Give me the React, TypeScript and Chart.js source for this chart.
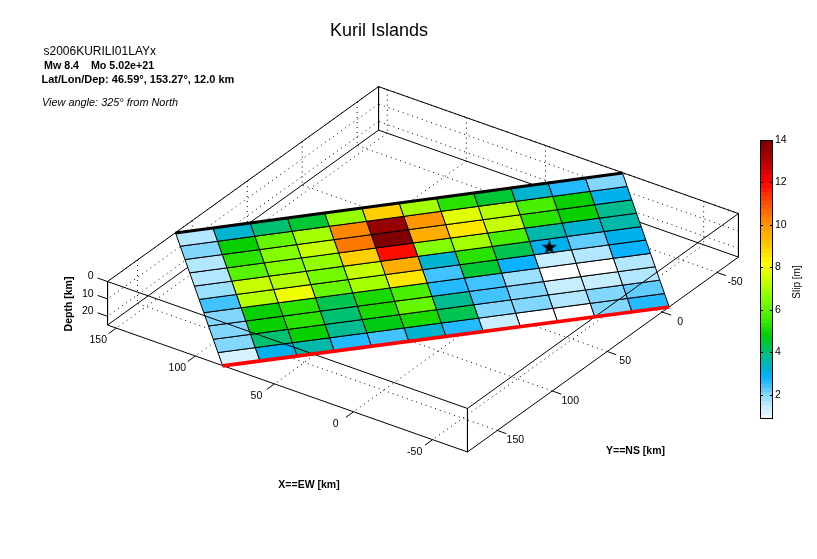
import React, { useEffect, useRef } from "react";
import { Chart, registerables } from "chart.js";
Chart.register(...registerables);

// ---- data (km / m) ----
const xTicks = [-50, 0, 50, 100, 150];
const yTicks = [-50, 0, 50, 100, 150];
const depthTicks = [0, 10, 20];
const slipTicks = [2, 4, 6, 8, 10, 12, 14];
const xLim = [-72, 155.5];
const yLim = [-69.5, 177.2];
const depthLim = [0, 25];
const slipLim = [0.87, 14];
const faultTopLeft = [155.3, 115.6, 0];
const faultTopRight = [1.1, -69.2, 0];
const faultBottomLeft = [82.6, 177.4, 25];
const faultBottomRight = [-72, -6.4, 25];
const hypocentre = [0.8, -2.2, 12];
const slip = [
  [1.6, 3.3, 4.1, 4.4, 6.8, 9.0, 6.9, 5.3, 4.4, 3.3, 2.6, 1.9],
  [2.0, 4.8, 6.0, 7.0, 10.3, 13.5, 10.1, 7.8, 7.2, 5.6, 4.8, 3.1],
  [1.6, 5.3, 6.5, 7.4, 10.5, 13.8, 9.5, 8.5, 7.4, 5.3, 4.8, 3.85],
  [1.6, 5.8, 6.6, 6.8, 9.0, 11.9, 6.5, 7.0, 5.6, 3.6, 3.3, 3.6],
  [1.8, 7.3, 7.2, 6.4, 7.3, 9.5, 3.3, 5.3, 4.3, 3.1, 2.3, 3.1],
  [2.4, 7.2, 8.0, 6.2, 7.0, 8.6, 2.4, 4.4, 2.9, 1.3, 1.6, 2.9],
  [2.0, 4.9, 5.3, 4.2, 5.1, 5.6, 2.6, 2.5, 1.8, 0.8, 0.8, 1.6],
  [2.0, 4.9, 5.3, 4.0, 5.0, 6.0, 3.85, 2.4, 2.0, 1.3, 1.3, 1.6],
  [2.1, 4.0, 4.9, 3.85, 4.6, 5.1, 4.2, 2.1, 2.1, 1.6, 2.1, 2.2],
  [1.1, 3.1, 3.6, 2.6, 2.4, 3.3, 2.6, 1.3, 0.8, 0.8, 1.9, 2.6],
];
const titleText = "Kuril Islands";
const headerId = "s2006KURILI01LAYx";
const headerMw = "Mw 8.4    Mo 5.02e+21";
const headerLoc = "Lat/Lon/Dep: 46.59\u00b0, 153.27\u00b0, 12.0 km";
const headerView = "View angle: 325\u00b0 from North";
const xTitle = "X==EW [km]";
const yTitle = "Y==NS [km]";
const depthTitle = "Depth [km]";
const slipTitle = "Slip [m]";

// colour map: slip value -> rgb
const mapStops: number[][] = [
  [0.87, 238, 250, 255], [1.5, 190, 235, 255], [2, 130, 215, 255], [2.5, 50, 190, 255],
  [2.9, 0, 175, 255], [3.2, 0, 180, 210], [3.7, 0, 185, 165], [4.2, 0, 195, 90],
  [4.8, 0, 205, 0], [5.5, 60, 235, 0], [6.5, 130, 255, 0], [7.5, 210, 255, 0],
  [8.2, 255, 255, 0], [9, 255, 205, 0], [10, 255, 150, 0], [11, 255, 80, 0],
  [12, 255, 0, 0], [13, 180, 0, 0], [14, 120, 0, 0],
];
const LEVELS = 64;
function slipColour(v: number) {
  if (v < slipLim[0]) return "rgb(255,255,255)";
  const step = (slipLim[1] - slipLim[0]) / LEVELS;
  const q = Math.min(slipLim[1] - step / 2, slipLim[0] + (Math.floor((v - slipLim[0]) / step) + 0.5) * step);
  let i = 0;
  while (i < mapStops.length - 2 && q > mapStops[i + 1][0]) i++;
  const a = mapStops[i], b = mapStops[i + 1];
  const t = (q - a[0]) / (b[0] - a[0]);
  const c = [1, 2, 3].map((k) => Math.round(a[k] + (b[k] - a[k]) * t));
  return `rgb(${c[0]},${c[1]},${c[2]})`;
}

// view projection (orthographic) from km to the chart's coordinates
const VIEW = { ox: 547.76, oy: 271.8, xx: -1.582, xy: -0.558, yx: -1.0985, yy: 0.79, z: 1.74 };
function project(X: number, Y: number, d: number) {
  return {
    x: VIEW.ox + X * VIEW.xx + Y * VIEW.yx,
    y: VIEW.oy + X * VIEW.xy + Y * VIEW.yy + (d - depthLim[1]) * VIEW.z,
  };
}

const FONT = '"Liberation Sans", Arial, sans-serif';
const TITLE_SIZE = 18;
const TITLE_TOP = 20.2;
const AREA_TOP = TITLE_TOP + TITLE_SIZE * 1.2;

function path3(pts: number[][], order: number, extra: any = {}) {
  return {
    data: pts.map((p) => project(p[0], p[1], p[2])),
    showLine: true,
    pointRadius: 0,
    borderColor: "#000",
    borderWidth: 1,
    tension: 0,
    order,
    clip: false,
    ...extra,
  };
}

function buildDatasets(starImage: HTMLCanvasElement) {
  const ds: any[] = [];
  const [x0, x1] = xLim, [y0, y1] = yLim, [d0, d1] = depthLim;
  const dotted = { borderDash: [1, 4], borderColor: "#000", borderWidth: 1 };

  // grid on the floor and the two back walls
  xTicks.forEach((X) => {
    ds.push(path3([[X, y0, d1], [X, y1, d1]], 50, dotted));
    ds.push(path3([[X, y0, d0], [X, y0, d1]], 50, dotted));
  });
  yTicks.forEach((Y) => {
    ds.push(path3([[x0, Y, d1], [x1, Y, d1]], 50, dotted));
    ds.push(path3([[x1, Y, d0], [x1, Y, d1]], 50, dotted));
  });
  depthTicks.forEach((d) => {
    ds.push(path3([[x1, y0, d], [x1, y1, d]], 50, dotted));
    ds.push(path3([[x0, y0, d], [x1, y0, d]], 50, dotted));
  });

  // back box edges
  [
    [[x1, y0, d0], [x1, y0, d1]],
    [[x1, y0, d0], [x1, y1, d0]],
    [[x1, y0, d0], [x0, y0, d0]],
    [[x1, y0, d1], [x1, y1, d1]],
    [[x1, y0, d1], [x0, y0, d1]],
  ].forEach((seg) => ds.push(path3(seg, 40)));

  // fault cells
  const rows = slip.length, cols = slip[0].length;
  const corner = (i: number, j: number) => {
    const u = i / cols, v = j / rows;
    return [0, 1, 2].map((k) =>
      (1 - v) * ((1 - u) * faultTopLeft[k] + u * faultTopRight[k]) +
      v * ((1 - u) * faultBottomLeft[k] + u * faultBottomRight[k]));
  };
  slip.forEach((row, j) =>
    row.forEach((val, i) => {
      ds.push(
        path3([corner(i, j), corner(i + 1, j), corner(i + 1, j + 1), corner(i, j + 1), corner(i, j)], 30, {
          fill: "shape",
          backgroundColor: slipColour(val),
        })
      );
    })
  );

  // front box edges
  [
    [[x0, y1, d0], [x0, y1, d1]],
    [[x1, y1, d0], [x1, y1, d1]],
    [[x0, y0, d0], [x0, y0, d1]],
    [[x1, y1, d0], [x0, y1, d0]],
    [[x0, y1, d0], [x0, y0, d0]],
    [[x1, y1, d1], [x0, y1, d1]],
    [[x0, y1, d1], [x0, y0, d1]],
  ].forEach((seg) => ds.push(path3(seg, 20)));

  // tick marks
  xTicks.forEach((X) => ds.push(path3([[X, y1, d1], [X, y1 + 7, d1]], 20)));
  yTicks.forEach((Y) => ds.push(path3([[x0, Y, d1], [x0 - 5.7, Y, d1]], 20)));
  depthTicks.forEach((d) => ds.push(path3([[x1, y1, d], [x1 + 6.3, y1, d]], 20)));

  // fault top and bottom edges
  ds.push(path3([faultTopLeft, faultTopRight], 10, { borderWidth: 3, borderCapStyle: "butt" }));
  ds.push(path3([faultBottomLeft, faultBottomRight], 10, { borderColor: "#ff0000", borderWidth: 3.6 }));

  // hypocentre
  ds.push({
    data: [project(hypocentre[0], hypocentre[1], hypocentre[2])],
    showLine: false,
    pointStyle: starImage,
    pointRadius: 8,
    order: 5,
    clip: false,
  });
  return ds;
}

function makeStar() {
  const c = document.createElement("canvas");
  c.width = 17;
  c.height = 17;
  const g = c.getContext("2d")!;
  g.fillStyle = "#000";
  g.beginPath();
  for (let i = 0; i < 10; i++) {
    const r = i % 2 === 0 ? 8 : 3;
    const a = -Math.PI / 2 + (i * Math.PI) / 5;
    const px = 8.5 + r * Math.cos(a), py = 9 + r * Math.sin(a);
    if (i === 0) g.moveTo(px, py); else g.lineTo(px, py);
  }
  g.closePath();
  g.fill();
  return c;
}

function drawText(ctx: any, s: string, x: number, y: number, font: string, align: CanvasTextAlign = "center", rot = 0) {
  ctx.save();
  ctx.translate(x, y);
  ctx.rotate(rot);
  ctx.font = font;
  ctx.fillStyle = "#000";
  ctx.textAlign = align;
  ctx.textBaseline = "middle";
  ctx.fillText(s, 0, 0);
  ctx.restore();
}

const labelPlugin = {
  id: "labels3d",
  afterDraw(chart: any) {
    const { ctx, scales } = chart;
    const px = (p: { x: number; y: number }) => ({ x: scales.x.getPixelForValue(p.x), y: scales.y.getPixelForValue(p.y) });
    const text = (s: string, x: number, y: number, font: string, align: CanvasTextAlign = "center", rot = 0) =>
      drawText(ctx, s, x, y, font, align, rot);
    const tickFont = `10.5px ${FONT}`;
    const [x0] = xLim, [, y1] = yLim, [, d1] = depthLim;
    xTicks.forEach((X) => {
      const p = px(project(X, y1, d1));
      text(String(X), p.x - 18, p.y + 12.5, tickFont);
    });
    yTicks.forEach((Y) => {
      const p = px(project(x0, Y, d1));
      text(String(Y), p.x + 18, p.y + 10, tickFont);
    });
    depthTicks.forEach((d) => {
      const p = px(project(xLim[1], y1, d));
      text(String(d), p.x - 14, p.y - 5, tickFont, "right");
    });
    const bold = `bold 10.5px ${FONT}`;
    text(xTitle, 309, 485.5, bold);
    text(yTitle, 635.5, 451, bold);
    text(depthTitle, 69, 304, bold, "center", -Math.PI / 2);
    text(headerId, 43.5, 51.5, `12px ${FONT}`, "left");
    text(headerMw, 44, 66.5, `bold 10.7px ${FONT}`, "left");
    text(headerLoc, 41.5, 80, `bold 11px ${FONT}`, "left");
    text(headerView, 42, 103, `italic 10.9px ${FONT}`, "left");
  },
};

const barFramePlugin = {
  id: "barFrame",
  afterDraw(chart: any) {
    const { ctx, chartArea: a, scales } = chart;
    ctx.save();
    ctx.strokeStyle = "#000";
    ctx.lineWidth = 1;
    ctx.strokeRect(a.left + 0.5, a.top + 0.5, a.width - 1, a.height - 1);
    ctx.beginPath();
    slipTicks.forEach((v) => {
      const y = Math.round(scales.y.getPixelForValue(v)) + 0.5;
      ctx.moveTo(a.left, y); ctx.lineTo(a.left + 3, y);
      ctx.moveTo(a.right - 3, y); ctx.lineTo(a.right, y);
    });
    ctx.stroke();
    ctx.restore();
    drawText(ctx, slipTitle, 57, 152, `10px ${FONT}`, "center", -Math.PI / 2);
  },
};

export default function App() {
  const mainRef = useRef<HTMLCanvasElement>(null);
  const barRef = useRef<HTMLCanvasElement>(null);

  useEffect(() => {
    const main = new Chart(mainRef.current!, {
      type: "scatter",
      data: { datasets: buildDatasets(makeStar()) },
      options: {
        responsive: false,
        animation: false,
        devicePixelRatio: 1,
        layout: { autoPadding: false, padding: 0 },
        scales: {
          x: { type: "linear", min: -0.45, max: 757.55, display: false },
          y: { type: "linear", min: AREA_TOP, max: 559, reverse: true, display: false },
        },
        plugins: {
          legend: { display: false },
          tooltip: { enabled: false },
          title: {
            display: true,
            text: titleText,
            color: "#000",
            font: { family: FONT, size: TITLE_SIZE, weight: "normal", lineHeight: 1.2 },
            padding: { top: TITLE_TOP, bottom: 0 },
          },
        },
      },
      plugins: [labelPlugin],
    } as any);

    const step = (slipLim[1] - slipLim[0]) / LEVELS;
    const levels = Array.from({ length: LEVELS }, (_, i) => slipLim[0] + i * step);
    const bar = new Chart(barRef.current!, {
      type: "bar",
      data: {
        labels: ["slip"],
        datasets: levels.map((lo) => ({
          data: [[lo, lo + step]],
          backgroundColor: slipColour(lo + step / 2),
          grouped: false,
          barPercentage: 1,
          categoryPercentage: 1,
          borderWidth: 0,
        })),
      },
      options: {
        responsive: false,
        animation: false,
        devicePixelRatio: 1,
        layout: { autoPadding: false, padding: { left: 20, top: 10, bottom: 11, right: 0 } },
        scales: {
          x: { display: false },
          y: {
            position: "right",
            min: slipLim[0],
            max: slipLim[1],
            afterBuildTicks: (axis: any) => {
              axis.ticks = slipTicks.map((value) => ({ value }));
            },
            afterFit: (axis: any) => {
              axis.width = 37;
            },
            grid: { display: false, drawTicks: false },
            border: { display: false },
            ticks: { color: "#000", padding: 2, font: { family: FONT, size: 10.5 }, autoSkip: false },
          },
        },
        plugins: { legend: { display: false }, tooltip: { enabled: false } },
      },
      plugins: [barFramePlugin],
    } as any);

    return () => {
      main.destroy();
      bar.destroy();
    };
  }, []);

  return (
    <div style={{ position: "absolute", left: 0, top: 0, width: 817, height: 559, background: "#fff", overflow: "hidden" }}>
      <canvas ref={mainRef} width={758} height={559} style={{ position: "absolute", left: 0, top: 0, display: "block" }} />
      <canvas ref={barRef} width={70} height={300} style={{ position: "absolute", left: 740, top: 130, display: "block" }} />
    </div>
  );
}
